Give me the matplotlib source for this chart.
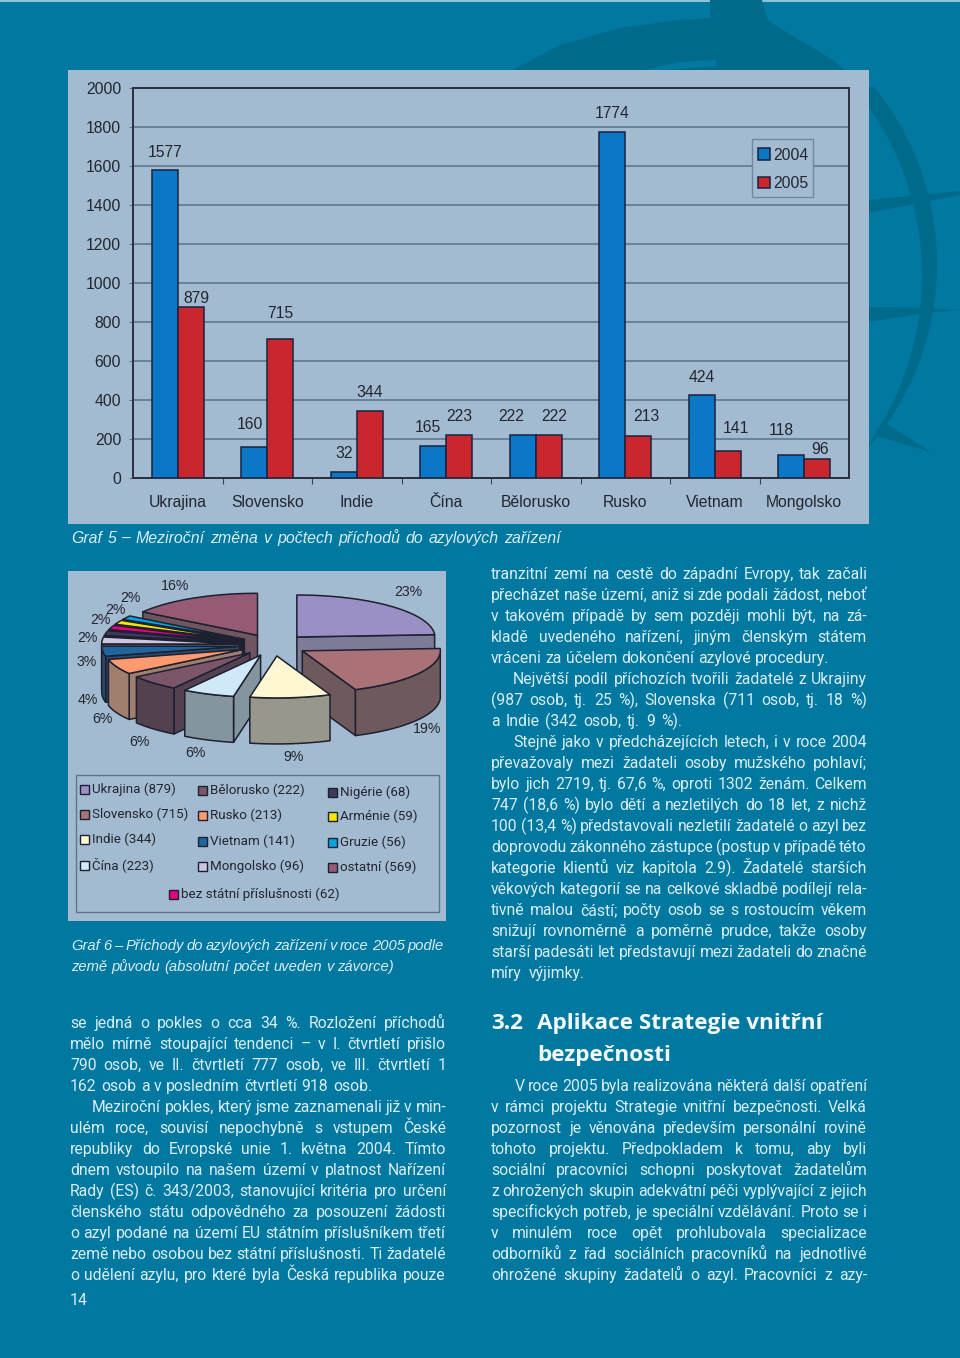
# plot.py -- page with bar chart (Graf 5), exploded 3D pie (Graf 6) and body text
import numpy as np
import matplotlib
matplotlib.use('Agg')
import matplotlib.pyplot as plt
from matplotlib.patches import Rectangle, Polygon

# %% data
countries = ['Ukrajina', 'Slovensko', 'Indie', 'Čína', 'Bělorusko', 'Rusko', 'Vietnam', 'Mongolsko']
vals_2004 = [1577, 160, 32, 165, 222, 1774, 424, 118]
vals_2005 = [879, 715, 344, 223, 222, 213, 141, 96]
y_ticks = [0, 200, 400, 600, 800, 1000, 1200, 1400, 1600, 1800, 2000]

pie_names = ['Ukrajina', 'Slovensko', 'Indie', 'Čína', 'Bělorusko', 'Rusko', 'Vietnam', 'Mongolsko',
             'Nigérie', 'bez státní příslušnosti', 'Arménie', 'Gruzie', 'ostatní']
pie_vals = [879, 715, 344, 223, 222, 213, 141, 96, 68, 62, 59, 56, 569]
pie_pct = ['23%', '19%', '9%', '6%', '6%', '6%', '4%', '3%', '2%', '2%', '2%', '2%', '16%']
pie_cols = ['#9b90c6', '#a87276', '#fff6d2', '#cfe9fb', '#7a5668', '#ff9a70', '#1f66a0', '#cdc6e0',
            '#3f3a5a', '#e6007e', '#f4e600', '#00a5e0', '#965a74']
wall_cols = ['#7c7c98', '#6e5a5c', '#98978c', '#85959f', '#54414f', '#a07f6f', '#2c4a68', '#6a6a78',
             '#222230', '#222230', '#222230', '#222230', '#6e5560']

# %% colours and fonts
BG = '#00789f'
DARK = '#006a8b'
PANEL = '#a3bbd1'
INK = '#23252f'
PALE = '#d8eef6'
BODY_FONT = ['Roboto', 'Liberation Sans']
plt.rcParams['font.family'] = ['Liberation Sans', 'DejaVu Sans']

fig = plt.figure(figsize=(9.6, 13.58), dpi=100, facecolor=BG)
page = fig.add_axes([0, 0, 1, 1])
page.set_xlim(0, 960)
page.set_ylim(1358, 0)
page.axis('off')

# %% globe in the background
page.add_patch(Rectangle((0, 0), 960, 2, fc='#8fc4d6', ec='none'))
page.add_patch(Polygon([(511, 71), (560, 45), (620, 28), (680, 20), (710, 18), (710, 0), (762, 0), (768, 21),
                        (833, 60), (850, 75)], fc=DARK, ec='none'))
yy = np.linspace(87, 445, 60)
outer = np.column_stack([657 + np.sqrt(280**2 - (yy - 264)**2), yy])
yy2 = np.linspace(108, 450, 60)
inner = np.column_stack([630 + np.sqrt(292**2 - (yy2 - 275)**2), yy2])
page.add_patch(Polygon(np.vstack([[(860, 70), (868, 87)], outer, inner[::-1], [(860, 108)]]), fc=DARK, ec='none'))
page.add_patch(Polygon([(640, 71), (680, 62), (716, 60), (716, 66), (690, 68), (660, 71)], fc=BG, ec='none'))
page.add_patch(Polygon([(869, 200), (960, 191), (960, 195), (869, 213)], fc=DARK, ec='none'))
page.add_patch(Polygon([(869, 307), (925, 308), (960, 310), (925, 313), (869, 322)], fc=DARK, ec='none'))
page.add_patch(Polygon([(882, 421), (931, 452), (876, 436)], fc=DARK, ec='none'))

# %% panels
page.add_patch(Rectangle((68, 70), 801, 454, fc=PANEL, ec='none'))
page.add_patch(Rectangle((68, 571), 378, 350, fc=PANEL, ec='none'))
page.add_patch(Rectangle((75.5, 775), 363.5, 137, fc='none', ec='#5f7488', lw=1.0))

# %% Graf 5: grouped bars
L, R, T, B = 133, 849, 88, 478
ax = fig.add_axes([L / 960, 1 - B / 1358, (R - L) / 960, (B - T) / 1358])
ax.patch.set_alpha(0)
x = np.arange(len(countries))
w = 0.29
bars1 = ax.bar(x - w / 2, vals_2004, w, color='#0a78c6', edgecolor='#1b2340', lw=1.1, label='2004', zorder=3)
bars2 = ax.bar(x + w / 2, vals_2005, w, color='#c9272d', edgecolor='#1b2340', lw=1.1, label='2005', zorder=3)
ax.set_xlim(-0.5, len(countries) - 0.5)
ax.set_ylim(0, 2000)
ax.set_yticks(y_ticks)
ax.tick_params(axis='y', length=3, color='#5f7488', labelsize=11.3, labelcolor=INK, pad=5.5)
ax.set_xticks(x)
ax.set_xticklabels(countries)
ax.tick_params(axis='x', which='major', length=0, labelsize=11.3, labelcolor=INK, pad=12.5)
ax.set_xticks(x[:-1] + 0.5, minor=True)
ax.tick_params(axis='x', which='minor', length=4, color='#3a4050', width=0.8)
ax.grid(axis='y', color='#5f7890', lw=1.2, zorder=1)
ax.set_axisbelow(True)
for s in ax.spines.values():
    s.set_color('#2a2f3c')
    s.set_linewidth(1.4)

# label offsets in pixels from the top centre of each bar
off_2004 = [(0, 18), (-4, 22), (0, 18), (-5, 18), (-12, 18), (0, 19), (0, 18), (-10, 24)]
off_2005 = [(6, 8), (0, 25), (0, 18), (0, 18), (5, 18), (8, 20), (8, 22), (3, 10)]
for rects, vals, offs in ((bars1, vals_2004, off_2004), (bars2, vals_2005, off_2005)):
    for r, v, o in zip(rects, vals, offs):
        ax.annotate(str(v), (r.get_x() + r.get_width() / 2, v), xytext=(o[0] * 0.72, o[1] * 0.72),
                    textcoords='offset points', ha='center', va='center', fontsize=11.3, color=INK)

# legend box sits over the grid but under nothing else
ax.add_patch(Rectangle((752, 139), 61, 58, transform=page.transData, fc=PANEL, ec='#71879c', lw=1.0,
                       zorder=2, clip_on=False))
leg = ax.legend(loc='upper left', bbox_to_anchor=((749.5 - L) / (R - L), 1 - (139 - T) / (B - T)),
                borderaxespad=0, fontsize=11.3, frameon=False, handlelength=0.75, handleheight=0.75,
                handletextpad=0.2, labelspacing=0.85, borderpad=0.55)
for t in leg.get_texts():
    t.set_color(INK)

# %% Graf 6: exploded 3D pie, built from the values
CX, CY = 273.5, 645    # pie centre on the page
RX, RY = 138, 42       # ellipse of the top face
EX, EY = 34, 11        # explosion
DEPTH = 46
EDGE = '#1d2030'

edges = np.concatenate([[0], np.cumsum(pie_vals)]) / sum(pie_vals) * 2 * np.pi
mids = (edges[:-1] + edges[1:]) / 2


def arc(tip, t0, t1, drop=0):
    tt = np.linspace(t0, t1, max(int((t1 - t0) * 30), 2))
    return np.column_stack([tip[0] + RX * np.sin(tt), tip[1] - RY * np.cos(tt) + drop])


for i in np.argsort(-np.cos(mids)):
    t0, t1 = edges[i], edges[i + 1]
    tip = (CX + EX * np.sin(mids[i]), CY - EY * np.cos(mids[i]))
    kw = dict(ec=EDGE, lw=1.1, joinstyle='round')
    # radial walls that face the viewer
    for t, visible in ((t0, np.sin(t0) < 0), (t1, np.sin(t1) > 0)):
        if visible:
            p = arc(tip, t, t + 1e-6)[0]
            page.add_patch(Polygon([tip, p, (p[0], p[1] + DEPTH), (tip[0], tip[1] + DEPTH)], fc=wall_cols[i], **kw))
    # outer wall, front half only
    a, b = max(t0, np.pi / 2), min(t1, 3 * np.pi / 2)
    if b > a:
        top = arc(tip, a, b)
        page.add_patch(Polygon(np.vstack([top, arc(tip, a, b, DEPTH)[::-1]]), fc=wall_cols[i], **kw))
    page.add_patch(Polygon(np.vstack([[tip], arc(tip, t0, t1)]), fc=pie_cols[i], **kw))

pct_xy = [(408, 592), (427, 729), (294, 757), (195, 753), (139, 742), (102, 719), (88, 700), (87, 662),
          (87, 638), (100, 620), (115, 610), (130, 598), (175, 586)]
for s, (px, py) in zip(pie_pct, pct_xy):
    page.text(px, py, s, ha='center', va='center', fontsize=10.2, color=INK)

# legend of the pie: four rows in three columns, one centred row
leg_xy = [(80, 789), (80, 814), (80, 839), (80, 865),
          (198, 790), (198, 815), (198, 841), (198, 866), (328, 792),
          (169, 894), (328, 816), (328, 842), (328, 867)]
for name, v, col, (lx, ly) in zip(pie_names, pie_vals, pie_cols, leg_xy):
    page.add_patch(Rectangle((lx, ly - 4.5), 8.5, 9, fc=col, ec=EDGE, lw=1.0))
    page.text(lx + 12, ly, f'{name} ({v})', ha='left', va='center', fontsize=9.6, color=INK,
              family=['Roboto', 'Liberation Sans'])

# %% text helper: one justified line, word by word
renderer = fig.canvas.get_renderer()
MIN_GAP = 2.5


def line(s, x0, x1, base, **kw):
    words = s.split(' ')
    arts = [page.text(0, base, w, ha='left', va='baseline', **kw) for w in words]
    inv = page.transData.inverted()
    widths = []
    for t in arts:
        e = t.get_window_extent(renderer)
        widths.append(inv.transform((e.x1, 0))[0] - inv.transform((e.x0, 0))[0])
    widths = np.array(widths)
    n_gaps = max(len(words) - 1, 1)
    gap = (x1 - x0 - widths.sum()) / n_gaps
    if gap < MIN_GAP:  # line too long for its measure: shrink it a little
        scale = (x1 - x0 - MIN_GAP * n_gaps) / widths.sum()
        for t in arts:
            t.set_fontsize(t.get_fontsize() * scale)
        widths = widths * scale
        gap = MIN_GAP
    px = x0
    for t, wd in zip(arts, widths):
        t.set_x(px)
        px += wd + gap


cap = dict(color=PALE, style='italic', family=['Liberation Sans', 'DejaVu Sans'])
line('Graf 5 – Meziroční změna v počtech příchodů do azylových zařízení', 71, 561, 543, fontsize=11.4, **cap)
line('Graf 6 – Příchody do azylových zařízení v roce 2005 podle', 71, 444, 950, fontsize=10.6, **cap)
line('země původu (absolutní počet uveden v závorce)', 71, 394, 971, fontsize=10.6, **cap)

left_col = [
    ('se jedná o pokles o cca 34 %. Rozložení příchodů', 70, 446),
    ('mělo mírně stoupající tendenci – v I. čtvrtletí přišlo', 70, 446),
    ('790 osob, ve II. čtvrtletí 777 osob, ve III. čtvrtletí 1', 70, 446),
    ('162 osob a v posledním čtvrtletí 918 osob.', 70, 372),
    ('Meziroční pokles, který jsme zaznamenali již v min-', 92, 446),
    ('ulém roce, souvisí nepochybně s vstupem České', 70, 446),
    ('republiky do Evropské unie 1. května 2004. Tímto', 70, 446),
    ('dnem vstoupilo na našem území v platnost Nařízení', 70, 446),
    ('Rady (ES) č. 343/2003, stanovující kritéria pro určení', 70, 446),
    ('členského státu odpovědného za posouzení žádosti', 70, 446),
    ('o azyl podané na území EU státním příslušníkem třetí', 70, 446),
    ('země nebo osobou bez státní příslušnosti. Ti žadatelé', 70, 446),
    ('o udělení azylu, pro které byla Česká republika pouze', 70, 446),
]
right_col = [
    ('tranzitní zemí na cestě do západní Evropy, tak začali', 491, 867),
    ('přecházet naše území, aniž si zde podali žádost, neboť', 491, 867),
    ('v takovém případě by sem později mohli být, na zá-', 491, 867),
    ('kladě uvedeného nařízení, jiným členským státem', 491, 867),
    ('vráceni za účelem dokončení azylové procedury.', 491, 829),
    ('Největší podíl příchozích tvořili žadatelé z Ukrajiny', 513, 867),
    ('(987 osob, tj. 25 %), Slovenska (711 osob, tj. 18 %)', 491, 867),
    ('a Indie (342 osob, tj. 9 %).', 491, 682),
    ('Stejně jako v předcházejících letech, i v roce 2004', 513, 867),
    ('převažovaly mezi žadateli osoby mužského pohlaví;', 491, 867),
    ('bylo jich 2719, tj. 67,6 %, oproti 1302 ženám. Celkem', 491, 867),
    ('747 (18,6 %) bylo dětí a nezletilých do 18 let, z nichž', 491, 867),
    ('100 (13,4 %) představovali nezletilí žadatelé o azyl bez', 491, 867),
    ('doprovodu zákonného zástupce (postup v případě této', 491, 867),
    ('kategorie klientů viz kapitola 2.9). Žadatelé starších', 491, 867),
    ('věkových kategorií se na celkové skladbě podílejí rela-', 491, 867),
    ('tivně malou částí; počty osob se s rostoucím věkem', 491, 867),
    ('snižují rovnoměrně a poměrně prudce, takže osoby', 491, 867),
    ('starší padesáti let představují mezi žadateli do značné', 491, 867),
    ('míry výjimky.', 491, 585),
]
right_col2 = [
    ('V roce 2005 byla realizována některá další opatření', 515, 867),
    ('v rámci projektu Strategie vnitřní bezpečnosti. Velká', 491, 867),
    ('pozornost je věnována především personální rovině', 491, 867),
    ('tohoto projektu. Předpokladem k tomu, aby byli', 491, 867),
    ('sociální pracovníci schopni poskytovat žadatelům', 491, 867),
    ('z ohrožených skupin adekvátní péči vyplývající z jejich', 491, 867),
    ('specifických potřeb, je speciální vzdělávání. Proto se i', 491, 867),
    ('v minulém roce opět prohlubovala specializace', 491, 867),
    ('odborníků z řad sociálních pracovníků na jednotlivé', 491, 867),
    ('ohrožené skupiny žadatelů o azyl. Pracovníci z azy-', 491, 867),
]
body = dict(fontsize=11.3, color=PALE, family=BODY_FONT)
for col, y0 in ((left_col, 1028), (right_col, 579), (right_col2, 1091)):
    for n, (s, x0, x1) in enumerate(col):
        line(s, x0, x1, y0 + 21 * n, **body)
page.text(70, 1305, '14', fontsize=11.4, color=PALE, family=BODY_FONT, va='baseline')

head = dict(fontsize=16.2, color='#f2fafc', weight='bold', family=['Open Sans', 'DejaVu Sans'], va='baseline')
page.text(491, 1029, '3.2', **head)
page.text(537, 1029, 'Aplikace Strategie vnitřní', **head)
page.text(537, 1061, 'bezpečnosti', **head)

fig.savefig('out.png', dpi=100, facecolor=BG)
